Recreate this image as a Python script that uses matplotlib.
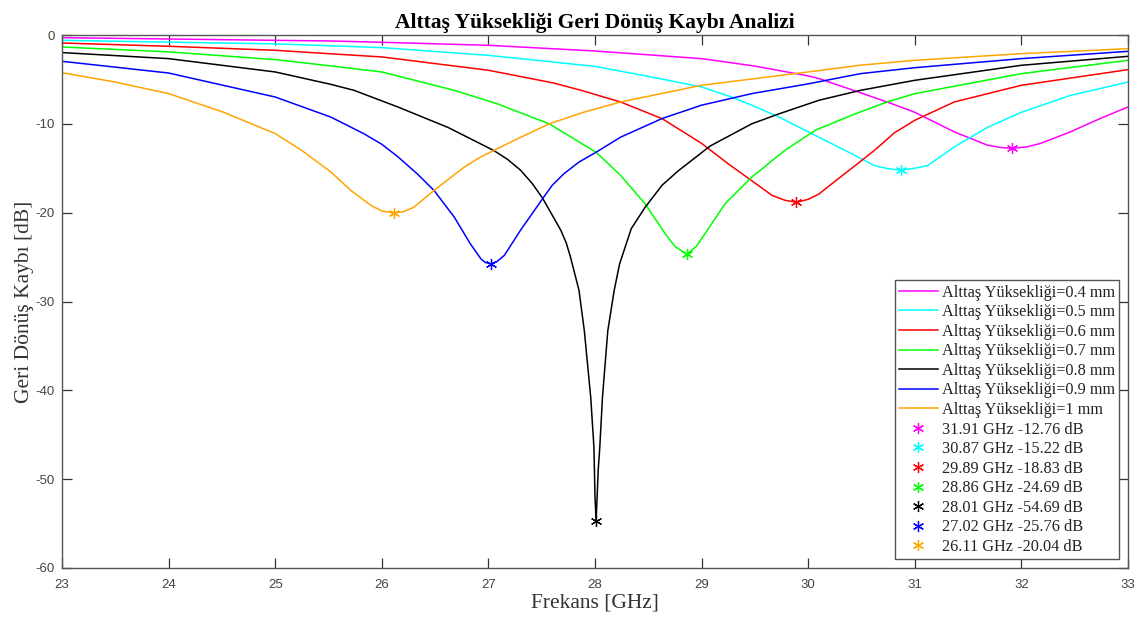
import matplotlib
matplotlib.use("Agg")
import matplotlib.pyplot as plt

# ---------------- data ----------------
f_04 = [23.0, 24.0, 25.0, 25.5, 26.0, 27.0, 28.0, 29.0, 29.5, 30.0, 30.1, 30.49, 30.74, 31.0,
        31.37, 31.68, 31.8, 31.91, 32.05, 32.18, 32.46, 32.74, 33.0]
s_04 = [-0.3, -0.45, -0.6, -0.67, -0.82, -1.16, -1.8, -2.66, -3.5, -4.6, -4.9, -6.5, -7.54, -8.7,
        -10.9, -12.4, -12.65, -12.76, -12.6, -12.2, -10.9, -9.4, -8.1]

f_05 = [23.0, 24.0, 25.0, 25.5, 26.0, 27.0, 28.0, 28.53, 29.0, 29.28, 29.47, 29.72, 30.1, 30.43,
        30.62, 30.75, 30.87, 31.0, 31.12, 31.37, 31.68, 32.0, 32.46, 33.0]
s_05 = [-0.6, -0.8, -1.0, -1.2, -1.42, -2.29, -3.53, -4.73, -5.85, -6.98, -7.9, -9.2, -11.5, -13.5,
        -14.7, -15.05, -15.22, -15.0, -14.7, -12.6, -10.4, -8.7, -6.8, -5.3]

f_06 = [23.0, 24.0, 25.0, 25.5, 26.0, 27.0, 27.61, 27.87, 28.24, 28.63, 29.0, 29.25, 29.47, 29.66,
        29.78, 29.89, 30.0, 30.1, 30.28, 30.43, 30.62, 30.81, 31.0, 31.37, 32.0, 33.0]
s_06 = [-0.9, -1.27, -1.72, -2.1, -2.47, -3.97, -5.4, -6.23, -7.54, -9.42, -12.2, -14.5, -16.4, -18.05,
        -18.6, -18.83, -18.5, -17.9, -16.2, -14.8, -13.0, -11.0, -9.6, -7.54, -5.66, -3.9]

f_07 = [23.0, 24.0, 25.0, 25.5, 26.0, 26.68, 27.08, 27.57, 28.01, 28.24, 28.47, 28.66, 28.75, 28.86,
        28.95, 29.03, 29.22, 29.47, 29.78, 30.07, 30.43, 30.74, 31.0, 32.0, 33.0]
s_07 = [-1.35, -1.9, -2.77, -3.45, -4.16, -6.23, -7.73, -10.0, -13.2, -15.8, -19.0, -22.4, -23.8, -24.69,
        -23.8, -22.4, -19.0, -16.0, -13.0, -10.7, -8.93, -7.54, -6.6, -4.35, -2.85]

f_08 = [23.0, 24.0, 25.0, 25.52, 25.74, 26.15, 26.62, 27.05, 27.18, 27.30, 27.41, 27.51, 27.60, 27.68,
        27.73, 27.77, 27.85, 27.90, 27.96, 27.99, 28.0, 28.01, 28.02, 28.03, 28.045, 28.07, 28.12,
        28.18, 28.23, 28.34, 28.47, 28.63, 28.78, 29.08, 29.47, 29.72, 30.1, 30.49, 31.0, 32.0, 33.0]
s_08 = [-1.98, -2.66, -4.16, -5.55, -6.23, -8.1, -10.4, -13.0, -14.0, -15.2, -16.7, -18.4, -20.3, -22.0,
        -23.4, -25.0, -28.75, -33.3, -40.8, -46.4, -52.0, -54.69, -52.0, -49.0, -46.4, -40.8, -33.3,
        -28.75, -25.8, -21.8, -19.4, -16.9, -15.3, -12.5, -10.0, -8.9, -7.35, -6.23, -5.1, -3.41, -2.4]

f_09 = [23.0, 24.0, 25.0, 25.52, 25.83, 26.0, 26.15, 26.33, 26.49, 26.68, 26.83, 26.93, 26.97, 27.02,
        27.08, 27.15, 27.30, 27.51, 27.60, 27.71, 27.85, 28.01, 28.24, 28.63, 29.0, 29.47, 30.0, 30.49,
        31.0, 32.0, 33.0]
s_09 = [-2.96, -4.28, -6.98, -9.23, -11.1, -12.3, -13.7, -15.6, -17.5, -20.5, -23.5, -25.2, -25.6, -25.76,
        -25.5, -24.8, -22.0, -18.4, -16.9, -15.6, -14.3, -13.2, -11.5, -9.4, -7.9, -6.6, -5.5, -4.35,
        -3.68, -2.66, -1.84]

f_10 = [23.0, 23.5, 24.0, 24.51, 25.0, 25.25, 25.52, 25.71, 25.90, 26.0, 26.11, 26.2, 26.30, 26.49,
        26.63, 26.77, 26.91, 27.05, 27.27, 27.57, 27.90, 28.24, 29.0, 30.0, 30.49, 31.0, 32.0, 33.0]
s_10 = [-4.24, -5.3, -6.6, -8.67, -11.1, -13.0, -15.4, -17.5, -19.2, -19.8, -20.04, -19.9, -19.4, -17.5,
        -16.2, -14.9, -13.85, -13.0, -11.7, -10.0, -8.67, -7.54, -5.66, -4.16, -3.4, -2.85, -2.1, -1.54]

heights = ["0.4", "0.5", "0.6", "0.7", "0.8", "0.9", "1"]
min_freq = [31.91, 30.87, 29.89, 28.86, 28.01, 27.02, 26.11]
min_db = [-12.76, -15.22, -18.83, -24.69, -54.69, -25.76, -20.04]

freqs = [f_04, f_05, f_06, f_07, f_08, f_09, f_10]
s11 = [s_04, s_05, s_06, s_07, s_08, s_09, s_10]
colors = ["#FF00FF", "#00FFFF", "#FF0000", "#00FF00", "#000000", "#0000FF", "#FFA500"]

xticks = [23, 24, 25, 26, 27, 28, 29, 30, 31, 32, 33]
yticks = [-60, -50, -40, -30, -20, -10, 0]

# ---------------- figure ----------------
W, H = 1142, 621
fig = plt.figure(figsize=(W / 100, H / 100), dpi=100)
ax = fig.add_axes([62 / W, 1 - 568 / H, (1128 - 62) / W, (568 - 35) / H])

serif = ["Liberation Serif", "DejaVu Serif"]
sans = ["Liberation Sans", "DejaVu Sans"]

line_handles = []
for f, s, c, h in zip(freqs, s11, colors, heights):
    ln, = ax.plot(f, s, color=c, lw=1.1, label=f"Alttaş Yüksekliği={h} mm")
    line_handles.append(ln)

ast = (6, 2, 0)
mk_handles = []
for fm, dm, c in zip(min_freq, min_db, colors):
    mk, = ax.plot([fm], [dm], linestyle="none", marker=ast, markersize=8,
                  markeredgewidth=0.9, color=c, label=f"{fm:.2f} GHz {dm:.2f} dB")
    mk_handles.append(mk)

ax.set_xlim(23, 33)
ax.set_ylim(-60, 0)
ax.set_xticks(xticks)
ax.set_yticks(yticks)
ax.set_xticklabels([str(v) for v in xticks], fontfamily=sans, fontsize=9.5)
ax.set_yticklabels([str(v) for v in yticks], fontfamily=sans, fontsize=9.5)

axis_col = "#555555"
for sp in ax.spines.values():
    sp.set_color(axis_col)
    sp.set_linewidth(1.0)
ax.tick_params(direction="in", length=7.5, width=0.9, color="#333333", labelcolor="#444444",
               top=True, right=True)
ax.tick_params(axis="x", pad=8)
ax.tick_params(axis="y", pad=5)

ax.set_title("Alttaş Yüksekliği Geri Dönüş Kaybı Analizi", fontfamily=serif,
             fontweight="bold", fontsize=15.5, pad=5)
ax.set_xlabel("Frekans [GHz]", fontfamily=serif, fontsize=15.5, color="#333333", labelpad=2)
ax.set_ylabel("Geri Dönüş Kaybı [dB]", fontfamily=serif, fontsize=15.5, color="#333333", labelpad=1)

leg = ax.legend(handles=line_handles + mk_handles, loc="lower right",
                prop={"family": serif, "size": 11.7}, frameon=True, fancybox=False,
                edgecolor="#555555", framealpha=1, borderaxespad=0.55,
                handlelength=2.4, handletextpad=0.25, labelspacing=0.22, borderpad=0.25,
                numpoints=1)
leg.get_frame().set_linewidth(1.0)
for t in leg.get_texts():
    t.set_color("#222222")

fig.savefig("out.png", dpi=100)
